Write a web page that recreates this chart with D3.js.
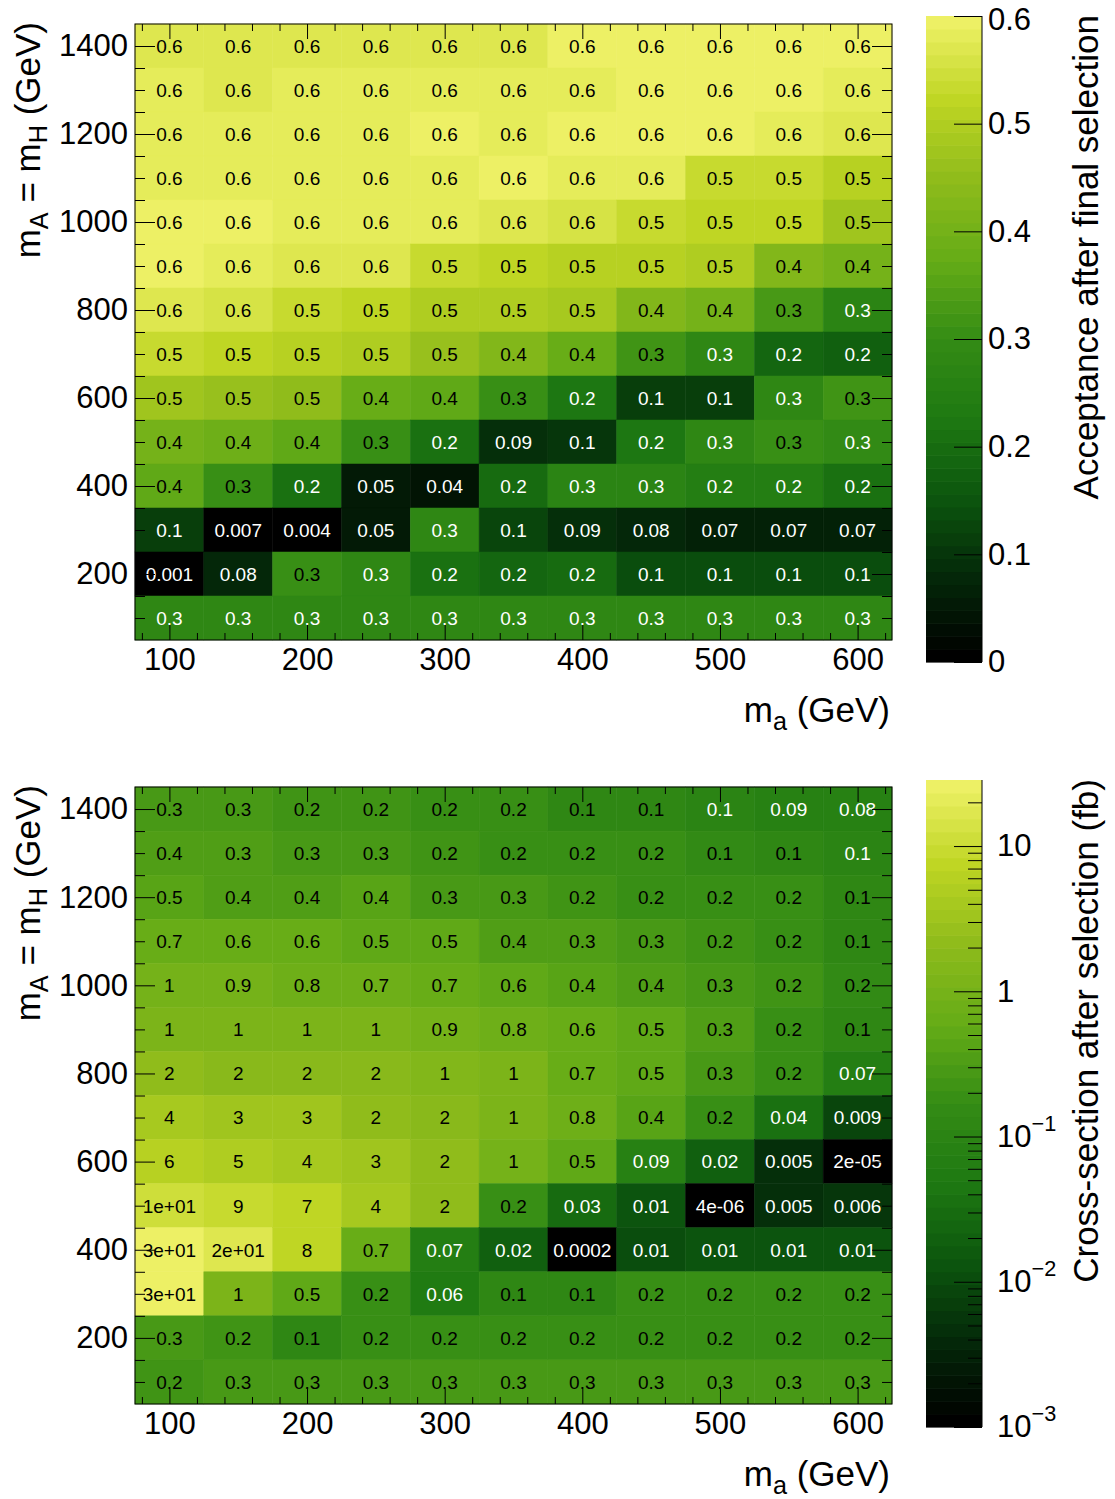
<!DOCTYPE html>
<html>
<head>
<meta charset="utf-8">
<script src="https://cdn.jsdelivr.net/npm/d3@7"></script>
<style>
  body { margin: 0; background: #fff; }
  svg { font-family: "Liberation Sans", Arial, Helvetica, sans-serif; }
</style>
</head>
<body>
<svg id="fig" width="1115" height="1499"></svg>
<script>
// m_a columns and m_A = m_H rows (rows listed top to bottom)
var massA = [100, 150, 200, 250, 300, 350, 400, 450, 500, 550, 600];
var massAH = [1400, 1300, 1200, 1100, 1000, 900, 800, 700, 600, 500, 400, 300, 200, 100];

// acceptance after final selection, one array per row (1400 -> 100)
var acceptance = [
  [0.57, 0.57, 0.57, 0.57, 0.57, 0.57, 0.595, 0.595, 0.595, 0.595, 0.595],
  [0.58, 0.565, 0.58, 0.58, 0.58, 0.58, 0.585, 0.595, 0.595, 0.595, 0.585],
  [0.58, 0.58, 0.58, 0.58, 0.59, 0.585, 0.6, 0.59, 0.59, 0.585, 0.57],
  [0.585, 0.585, 0.585, 0.585, 0.585, 0.59, 0.585, 0.585, 0.53, 0.53, 0.51],
  [0.59, 0.59, 0.58, 0.58, 0.58, 0.565, 0.56, 0.53, 0.52, 0.52, 0.47],
  [0.59, 0.58, 0.575, 0.57, 0.53, 0.52, 0.51, 0.51, 0.50, 0.43, 0.40],
  [0.565, 0.56, 0.535, 0.525, 0.50, 0.50, 0.49, 0.43, 0.40, 0.33, 0.27],
  [0.53, 0.52, 0.51, 0.50, 0.46, 0.42, 0.38, 0.32, 0.28, 0.19, 0.17],
  [0.47, 0.46, 0.455, 0.38, 0.36, 0.31, 0.22, 0.12, 0.12, 0.28, 0.32],
  [0.40, 0.39, 0.37, 0.305, 0.21, 0.09, 0.10, 0.22, 0.28, 0.31, 0.29],
  [0.37, 0.305, 0.21, 0.05, 0.04, 0.2, 0.27, 0.27, 0.24, 0.24, 0.21],
  [0.11, 0.007, 0.004, 0.05, 0.28, 0.13, 0.09, 0.08, 0.07, 0.07, 0.07],
  [0.001, 0.08, 0.305, 0.28, 0.21, 0.18, 0.2, 0.14, 0.14, 0.14, 0.14],
  [0.28, 0.28, 0.28, 0.28, 0.28, 0.28, 0.28, 0.28, 0.28, 0.28, 0.28]
];

// cross-section after selection in fb (1400 -> 100)
var xsec = [
  [0.30, 0.28, 0.22, 0.22, 0.20, 0.17, 0.13, 0.12, 0.097, 0.09, 0.08],
  [0.38, 0.32, 0.30, 0.27, 0.22, 0.20, 0.19, 0.17, 0.14, 0.13, 0.096],
  [0.46, 0.37, 0.38, 0.40, 0.30, 0.26, 0.23, 0.20, 0.20, 0.18, 0.13],
  [0.68, 0.60, 0.58, 0.52, 0.50, 0.38, 0.32, 0.28, 0.22, 0.18, 0.13],
  [1.0, 0.9, 0.8, 0.72, 0.68, 0.56, 0.42, 0.38, 0.28, 0.22, 0.16],
  [1.3, 1.2, 1.2, 1.1, 0.9, 0.8, 0.6, 0.5, 0.32, 0.2, 0.13],
  [2.0, 1.9, 1.8, 1.7, 1.4, 1.1, 0.7, 0.5, 0.3, 0.18, 0.07],
  [4.0, 3.2, 3.0, 2.2, 1.8, 1.1, 0.8, 0.4, 0.2, 0.04, 0.009],
  [6, 5, 4.4, 3.0, 2.0, 1.0, 0.5, 0.09, 0.02, 0.005, 0.00002],
  [10.5, 9, 7, 4, 2.2, 0.2, 0.03, 0.012, 0.000004, 0.005, 0.006],
  [28, 18, 8, 0.7, 0.07, 0.02, 0.0002, 0.011, 0.012, 0.012, 0.014],
  [28, 1.2, 0.5, 0.2, 0.06, 0.12, 0.13, 0.18, 0.18, 0.2, 0.2],
  [0.28, 0.22, 0.12, 0.2, 0.2, 0.2, 0.2, 0.2, 0.2, 0.2, 0.2],
  [0.22, 0.3, 0.3, 0.3, 0.3, 0.3, 0.3, 0.3, 0.3, 0.3, 0.3]
];

var xMajorTicks = [100, 200, 300, 400, 500, 600];
var yMajorTicks = [200, 400, 600, 800, 1000, 1200, 1400];
var accTicks = [0, 0.1, 0.2, 0.3, 0.4, 0.5, 0.6];
var xsecTicks = [0.001, 0.01, 0.1, 1, 10];
var xsecTickLabels = [["10", "\u22123"], ["10", "\u22122"], ["10", "\u22121"], ["1", ""], ["10", ""]];

// ROOT kAvocado palette stops
var avocado = ["#000000", "#042809", "#0c560e", "#1e7912", "#348c15", "#65ac17", "#8ebb1b", "#bed523", "#edf065"];
var palette = d3.scaleLinear()
  .domain(d3.range(avocado.length).map(function (i) { return i / (avocado.length - 1); }))
  .range(avocado)
  .interpolate(d3.interpolateRgb);
var nContours = 50;

function bandColor(f) {
  var k = Math.max(0, Math.min(nContours - 1, Math.floor(f * nContours)));
  return palette(k / (nContours - 1));
}

// printf("%.1g") look-alike
function fmtG1(v) {
  var parts = v.toExponential(0).split("e"),
    e = +parts[1];
  if (e < -4 || e >= 1) {
    return parts[0] + "e" + (e < 0 ? "-" : "+") + (Math.abs(e) < 10 ? "0" : "") + Math.abs(e);
  }
  return v.toPrecision(1);
}

var svg = d3.select("#fig");
var labelSize = 31, titleSize = 35, cellSize = 19;

function styleAxis(g, size) {
  g.attr("font-family", null).attr("font-size", size);
  g.select(".domain").remove();
  g.selectAll(".tick line").attr("stroke", "#000");
  g.selectAll(".tick text").attr("fill", "#000");
}

function drawPanel(opt) {
  var L = 135, R = 892,
    x = d3.scaleLinear().domain([75, 625]).range([L, R]),
    y = d3.scaleLinear().domain([50, 1450]).range([opt.bottom, opt.top]),
    z = opt.z,
    g = svg.append("g");

  function frac(v) {
    var r = z.range();
    return (z(v) - r[0]) / (r[1] - r[0]);
  }

  var cells = [];
  opt.values.forEach(function (row, i) {
    row.forEach(function (v, j) {
      cells.push({ mx: massA[j], my: massAH[i], v: v });
    });
  });

  g.selectAll("rect.cell").data(cells).enter().append("rect")
    .attr("class", "cell")
    .attr("x", function (d) { return x(d.mx - 25); })
    .attr("y", function (d) { return y(d.my + 50); })
    .attr("width", function (d) { return x(d.mx + 25) - x(d.mx - 25); })
    .attr("height", function (d) { return y(d.my - 50) - y(d.my + 50); })
    .attr("fill", function (d) { return bandColor(frac(d.v)); })
    .attr("stroke", function (d) { return bandColor(frac(d.v)); })
    .attr("stroke-width", 0.5);

  g.selectAll("text.cell").data(cells).enter().append("text")
    .attr("class", "cell")
    .attr("x", function (d) { return x(d.mx); })
    .attr("y", function (d) { return y(d.my); })
    .attr("dy", "0.36em")
    .attr("text-anchor", "middle")
    .attr("font-size", cellSize)
    .attr("fill", function (d) { return d.v < opt.whiteBelow ? "#fff" : "#000"; })
    .text(function (d) { return fmtG1(d.v); });

  var xMinor = d3.range(80, 621, 20).filter(function (t) { return t % 100 !== 0; }),
    yMinor = d3.range(100, 1401, 50).filter(function (t) { return t % 200 !== 0; });

  g.append("g").attr("transform", "translate(0," + opt.bottom + ")")
    .call(d3.axisBottom(x).tickValues(xMajorTicks).tickSize(-15).tickPadding(8).tickFormat(d3.format("d")))
    .call(styleAxis, labelSize);
  g.append("g").attr("transform", "translate(0," + opt.bottom + ")")
    .call(d3.axisBottom(x).tickValues(xMinor).tickSize(-7).tickFormat(""))
    .call(styleAxis, labelSize);
  g.append("g").attr("transform", "translate(0," + opt.top + ")")
    .call(d3.axisTop(x).tickValues(xMajorTicks).tickSize(-15).tickFormat(""))
    .call(styleAxis, labelSize);
  g.append("g").attr("transform", "translate(0," + opt.top + ")")
    .call(d3.axisTop(x).tickValues(xMinor).tickSize(-7).tickFormat(""))
    .call(styleAxis, labelSize);
  g.append("g").attr("transform", "translate(" + L + ",0)")
    .call(d3.axisLeft(y).tickValues(yMajorTicks).tickSize(-20).tickPadding(7).tickFormat(d3.format("d")))
    .call(styleAxis, labelSize);
  g.append("g").attr("transform", "translate(" + L + ",0)")
    .call(d3.axisLeft(y).tickValues(yMinor).tickSize(-10).tickFormat(""))
    .call(styleAxis, labelSize);
  g.append("g").attr("transform", "translate(" + R + ",0)")
    .call(d3.axisRight(y).tickValues(yMajorTicks).tickSize(-20).tickFormat(""))
    .call(styleAxis, labelSize);
  g.append("g").attr("transform", "translate(" + R + ",0)")
    .call(d3.axisRight(y).tickValues(yMinor).tickSize(-10).tickFormat(""))
    .call(styleAxis, labelSize);

  g.append("rect")
    .attr("x", L).attr("y", opt.top)
    .attr("width", R - L).attr("height", opt.bottom - opt.top)
    .attr("fill", "none").attr("stroke", "#000").attr("stroke-width", 1);

  // axis titles
  var xt = g.append("text")
    .attr("x", R - 2).attr("y", opt.bottom + 82)
    .attr("text-anchor", "end").attr("font-size", titleSize);
  xt.append("tspan").text("m");
  xt.append("tspan").attr("font-size", titleSize * 0.72).attr("dy", "0.3em").text("a");
  xt.append("tspan").attr("dy", "-0.22em").text(" (GeV)");

  var yt = g.append("text")
    .attr("transform", "translate(40," + (opt.top - 2) + ") rotate(-90)")
    .attr("text-anchor", "end").attr("font-size", titleSize);
  yt.append("tspan").text("m");
  yt.append("tspan").attr("font-size", titleSize * 0.72).attr("dy", "0.3em").text("A");
  yt.append("tspan").attr("dy", "-0.22em").text(" = m");
  yt.append("tspan").attr("font-size", titleSize * 0.72).attr("dy", "0.3em").text("H");
  yt.append("tspan").attr("dy", "-0.22em").text(" (GeV)");

  // colour bar
  var cbL = 926, cbR = 982,
    r = z.range(),
    h = (r[0] - r[1]) / nContours;
  g.selectAll("rect.band").data(d3.range(nContours)).enter().append("rect")
    .attr("class", "band")
    .attr("x", cbL).attr("width", cbR - cbL)
    .attr("y", function (k) { return z(z.invert(r[0] - (k + 1) * h)); })
    .attr("height", h + 0.6)
    .attr("fill", function (k) { return palette(k / (nContours - 1)); });

  var zAxis = g.append("g").attr("transform", "translate(" + cbR + ",0)")
    .call(d3.axisRight(z).tickValues(opt.zTicks).tickSize(-28).tickPadding(opt.zPad)
      .tickFormat(opt.zFormat || function () { return ""; }))
    .call(styleAxis, labelSize);
  // keep the topmost label inside the page
  zAxis.selectAll(".tick text").filter(function (d) { return z(d) < 20; }).attr("dy", "0.42em");
  if (opt.zMinor) {
    g.append("g").attr("transform", "translate(" + cbR + ",0)")
      .call(d3.axisRight(z).tickValues(opt.zMinor).tickSize(-14).tickFormat(""))
      .call(styleAxis, labelSize);
  }
  if (opt.zLabels) {
    zAxis.selectAll(".tick text").each(function (d, i) {
      var t = d3.select(this), lab = opt.zLabels[i];
      t.text(null);
      t.append("tspan").text(lab[0]);
      if (lab[1]) {
        t.append("tspan").attr("font-size", labelSize * 0.7).attr("dy", "-0.75em").text(lab[1]);
      }
    });
  }
  g.append("line")
    .attr("x1", cbR).attr("x2", cbR).attr("y1", r[1]).attr("y2", r[0])
    .attr("stroke", "#000");

  g.append("text")
    .attr("transform", "translate(1098," + (r[1] - 1) + ") rotate(-90)")
    .attr("text-anchor", "end").attr("font-size", titleSize)
    .text(opt.zTitle);
}

drawPanel({
  top: 24, bottom: 640,
  values: acceptance,
  z: d3.scaleLinear().domain([0, 0.6]).range([662, 16]).clamp(true),
  zTicks: accTicks,
  zPad: 6,
  zFormat: function (d) { return d === 0 ? "0" : d3.format(".1f")(d); },
  whiteBelow: 0.3,
  zTitle: "Acceptance after final selection"
});

var xsecMinor = [];
[-3, -2, -1, 0, 1].forEach(function (e) {
  d3.range(2, 10).forEach(function (m) {
    var v = m * Math.pow(10, e);
    if (v < 28.5) { xsecMinor.push(v); }
  });
});

drawPanel({
  top: 787, bottom: 1404,
  values: xsec,
  z: d3.scaleLog().domain([0.001, 28.5]).range([1427, 780]).clamp(true),
  zTicks: xsecTicks,
  zMinor: xsecMinor,
  zPad: 15,
  zLabels: xsecTickLabels,
  whiteBelow: 0.1,
  zTitle: "Cross-section after selection (fb)"
});
</script>
</body>
</html>
